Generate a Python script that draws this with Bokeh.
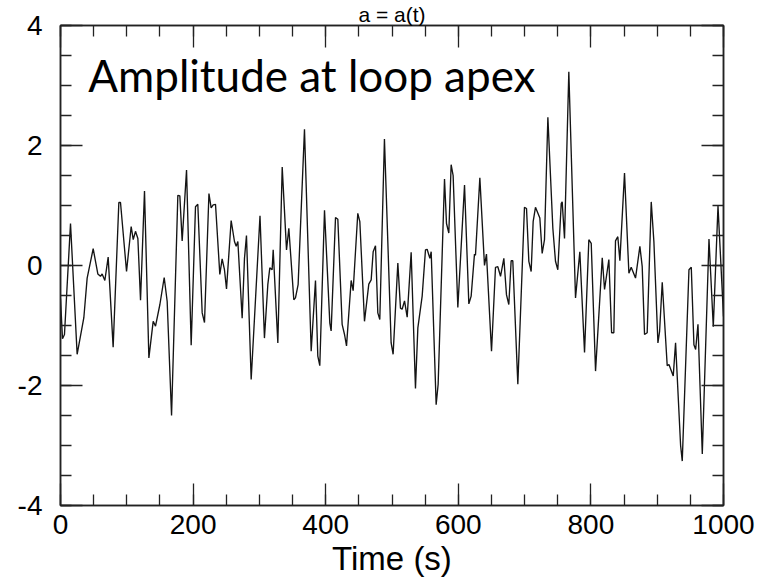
from bokeh.plotting import figure
from bokeh.models import (Range1d, LinearAxis, SingleIntervalTicker, Label,
                          CustomJSTickFormatter, ColumnDataSource)
from bokeh.embed import file_html
from bokeh.resources import INLINE

# Loop-apex amplitude time series
time_s = [
    0, 3, 6, 15.1, 25.1, 35.2, 40.2, 49.3, 56.3, 60.3, 62.8, 66.9, 71.9, 79.4,
    88.0, 90.5, 99.6, 106.6, 109.7, 113.1, 116.7, 120.7, 126.7, 133.3, 139.8,
    143.3, 149.9, 156.4, 160.9, 167.5, 177.0, 180.0, 183.5, 190.1, 197.1,
    203.6, 207.1, 213.7, 217.2, 223.9, 227.2, 230.3, 233.8, 240.3, 243.8,
    247.3, 250.4, 257.4, 262.4, 265.0, 267.5, 274.0, 277.5, 280.5, 287.6,
    300.9, 307.6, 312.7, 315.7, 319.2, 320.8, 327.8, 334.4, 340.9, 344.4,
    351.9, 354.4, 358.4, 368.0, 378.1, 384.6, 388.1, 391.1, 398.2, 406.2,
    408.2, 414.8, 418.3, 424.8, 428.4, 431.4, 438.4, 441.4, 448.4, 451.5,
    458.5, 465.0, 468.6, 471.6, 475.1, 478.6, 481.6, 488.6, 498.7, 501.7,
    508.8, 512.8, 515.3, 518.9, 522.9, 528.9, 535.4, 539.0, 545.5, 550.5,
    553.0, 557.1, 559.1, 566.6, 569.6, 579.2, 582.2, 585.7, 589.2, 592.2,
    599.3, 609.4, 615.9, 619.4, 624.4, 625.9, 632.5, 639.5, 642.5, 650.1,
    656.1, 659.6, 663.7, 668.7, 672.7, 676.2, 679.7, 682.2, 689.8, 699.8,
    702.9, 706.4, 709.9, 712.9, 716.4, 723.0, 726.5, 730.0, 735.1, 742.6,
    746.6, 750.1, 755.2, 756.7, 760.2, 766.7, 776.8, 783.3, 790.4, 796.9,
    800.5, 807.0, 817.1, 820.6, 827.1, 831.2, 834.6, 837.1, 840.6, 843.7,
    850.7, 857.3, 860.8, 867.3, 873.9, 877.4, 880.9, 884.9, 891.0, 895.0,
    901.1, 903.6, 907.6, 915.1, 917.7, 924.2, 927.7, 935.3, 937.8, 947.9,
    951.4, 955.4, 958.0, 961.5, 968.0, 978.1, 984.6, 991.7, 1000,
]
amplitude = [
    -0.55, -1.22, -1.15, 0.70, -1.48, -0.87, -0.21, 0.28, -0.14, -0.18, -0.14,
    -0.25, 0.14, -1.36, 1.05, 1.05, -0.10, 0.65, 0.43, 0.57, 0.45, -0.58,
    1.24, -1.54, -0.93, -1.01, -0.65, -0.20, -0.60, -2.50, 1.17, 1.16, 0.41,
    1.59, -1.33, 0.98, 1.02, -0.79, -0.95, 1.20, 0.96, 1.01, 1.02, -0.15,
    0.11, -0.07, -0.39, 0.75, 0.40, 0.32, 0.40, -0.88, 0.12, 0.50, -1.90,
    0.83, -1.21, -0.32, -0.04, -0.07, 0.26, -1.29, 1.64, 0.26, 0.62, -0.57,
    -0.54, -0.32, 2.27, -1.43, -0.25, -1.51, -1.67, 0.92, -0.96, -1.09, 0.80,
    0.77, -0.98, -1.15, -1.34, -0.25, -0.42, 0.87, 0.73, -0.93, -0.31, -0.24,
    0.23, 0.33, -0.79, -0.90, 2.11, -1.29, -1.48, 0.04, -0.71, -0.73, -0.59,
    -0.86, 0.22, -2.05, -1.04, -0.51, 0.26, 0.27, 0.12, 0.23, -2.32, -1.98,
    1.44, 0.70, 0.54, 1.68, 1.50, -0.70, 1.34, -0.64, -0.51, 0.19, 0.17,
    1.46, 0.00, 0.19, -1.43, -0.03, -0.02, -0.18, 0.12, -0.49, -0.65, 0.08,
    0.08, -1.98, 0.97, 0.95, 0.07, -0.10, 0.73, 0.97, 0.79, 0.20, 0.43, 2.47,
    0.62, 0.07, -0.07, 1.03, 1.06, 0.45, 3.23, -0.54, 0.23, -1.45, 0.43,
    0.37, -1.76, 0.13, -0.40, 0.10, -1.12, -1.12, 0.41, 0.48, 0.08, 1.54,
    -0.13, -0.03, -0.21, 0.32, -0.02, -1.15, -1.12, 1.06, 0.40, -1.29, -1.10,
    -0.28, -1.67, -1.65, -1.84, -1.29, -3.00, -3.26, -0.07, -0.03, -1.32,
    -1.40, -0.98, -3.14, 0.44, -1.02, 0.99, -0.85,
]

x_label = "Time (s)"
title_text = "a = a(t)"
panel_text = "Amplitude at loop apex"

TICK_FONT = "Liberation Sans"

p = figure(width=767, height=582, output_backend="svg", toolbar_location=None,
           x_range=Range1d(0, 1000), y_range=Range1d(-4, 4),
           min_border_left=60, min_border_right=44, min_border_top=24,
           min_border_bottom=77, x_axis_label=x_label, title=title_text)
p.grid.visible = False
p.outline_line_color = "#222222"
p.outline_line_width = 1.5
p.background_fill_color = "white"
p.border_fill_color = "white"

p.title.align = "center"
p.title.text_font = TICK_FONT
p.title.text_font_size = "21px"
p.title.text_font_style = "normal"
p.title.text_color = "black"
p.title.standoff = 0
p.title.offset = 0

src = ColumnDataSource(dict(t=time_s, a=amplitude))
p.line("t", "a", source=src, line_color="#141414", line_width=1.35)


def style_axis(ax, interval, show_labels):
    ax.ticker = SingleIntervalTicker(interval=interval, num_minor_ticks=4)
    ax.axis_line_color = "#222222"
    ax.axis_line_width = 1.5
    ax.major_tick_line_color = "#222222"
    ax.minor_tick_line_color = "#222222"
    ax.major_tick_line_width = 1.3
    ax.minor_tick_line_width = 1.3
    ax.major_tick_in = 22
    ax.major_tick_out = 0
    ax.minor_tick_in = 11
    ax.minor_tick_out = 0
    if show_labels:
        ax.formatter = CustomJSTickFormatter(code="return tick.toFixed(0)")
        ax.major_label_text_font = TICK_FONT
        ax.major_label_text_font_size = "28px"
        ax.major_label_text_color = "black"
    else:
        ax.formatter = CustomJSTickFormatter(code="return ''")
        ax.major_label_text_font_size = "1px"
        ax.major_label_standoff = 0


style_axis(p.xaxis[0], 200, True)
style_axis(p.yaxis[0], 2, True)
p.xaxis[0].major_label_standoff = 9
p.yaxis[0].major_label_standoff = 18
p.xaxis[0].axis_label_text_font = TICK_FONT
p.xaxis[0].axis_label_text_font_size = "33px"
p.xaxis[0].axis_label_text_font_style = "normal"
p.xaxis[0].axis_label_text_color = "black"
p.xaxis[0].axis_label_standoff = 3

top_axis = LinearAxis()
right_axis = LinearAxis()
style_axis(top_axis, 200, False)
style_axis(right_axis, 2, False)
p.add_layout(top_axis, "above")
p.add_layout(right_axis, "right")

# Caption inside the plotting area
p.add_layout(Label(x=42, y=3.17, text=panel_text, text_align="left",
                   text_baseline="alphabetic", text_font="Lato",
                   text_font_size="44px", text_color="black"))

open("out.html", "w").write(file_html(p, INLINE))
